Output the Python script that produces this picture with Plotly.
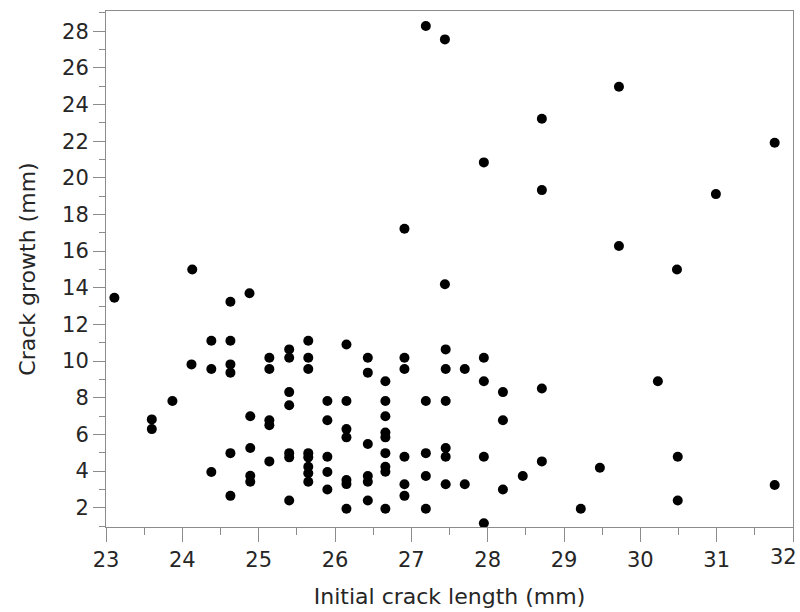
import plotly.graph_objects as go

# Initial crack length (mm) and the crack growth measured for each specimen (mm)
initial_length = [
    27.19, 27.44, 29.72, 28.71, 31.76, 27.95, 28.71, 30.99, 26.91, 29.72,
    24.13, 30.48, 27.44, 24.88, 23.11, 24.63, 24.38, 24.63, 25.65, 26.15,
    25.40, 27.45, 25.40, 25.14, 25.65, 26.43, 26.91, 27.95, 24.12, 24.63,
    24.38, 25.14, 25.65, 26.91, 27.45, 27.70, 24.63, 26.43, 26.66, 27.95,
    30.23, 28.71, 25.40, 28.20, 23.87, 25.90, 26.15, 26.66, 27.19, 27.45,
    25.40, 24.89, 26.66, 23.60, 25.14, 25.90, 28.20, 25.14, 23.60, 26.15,
    26.66, 26.15, 26.66, 26.43, 24.89, 27.45, 24.63, 25.40, 25.65, 26.66,
    27.19, 25.40, 25.65, 25.90, 26.91, 27.45, 27.95, 30.49, 25.14, 28.71,
    25.65, 26.66, 29.47, 24.38, 25.90, 26.66, 25.65, 24.89, 26.43, 27.19,
    28.46, 24.89, 25.65, 26.43, 26.15, 26.15, 26.91, 27.45, 27.70, 31.76,
    25.90, 28.20, 24.63, 26.91, 25.40, 26.43, 30.49, 26.15, 26.66, 27.19,
    29.22, 27.95,
]
crack_growth = [
    28.28, 27.55, 24.97, 23.22, 21.91, 20.84, 19.33, 19.11, 17.22, 16.28,
    15.00, 15.00, 14.19, 13.70, 13.46, 13.24, 11.11, 11.11, 11.11, 10.91,
    10.64, 10.64, 10.18, 10.18, 10.18, 10.18, 10.18, 10.18, 9.82, 9.82,
    9.57, 9.57, 9.57, 9.57, 9.57, 9.57, 9.37, 9.37, 8.90, 8.90,
    8.90, 8.51, 8.31, 8.31, 7.82, 7.82, 7.82, 7.82, 7.82, 7.82,
    7.59, 6.99, 6.99, 6.82, 6.77, 6.77, 6.77, 6.50, 6.29, 6.29,
    6.11, 5.84, 5.84, 5.48, 5.26, 5.26, 4.98, 4.98, 4.98, 4.98,
    4.98, 4.75, 4.75, 4.78, 4.78, 4.78, 4.78, 4.78, 4.53, 4.53,
    4.24, 4.24, 4.18, 3.95, 3.95, 3.96, 3.88, 3.75, 3.73, 3.73,
    3.73, 3.42, 3.42, 3.42, 3.51, 3.29, 3.28, 3.28, 3.28, 3.24,
    3.00, 3.00, 2.65, 2.65, 2.40, 2.40, 2.40, 1.95, 1.95, 1.95,
    1.95, 1.15,
]

x_ticks = list(range(23, 33))
y_ticks = list(range(2, 29, 2))

FONT = "DejaVu Sans"
TICK_SIZE = 21
TITLE_SIZE = 22
TEXT = "#262626"
AXIS = "#8c8c8c"

fig = go.Figure(
    go.Scatter(
        x=initial_length,
        y=crack_growth,
        mode="markers",
        marker=dict(color="black", size=10, line=dict(width=0)),
        hoverinfo="x+y",
    )
)

axis_common = dict(
    showgrid=False,
    zeroline=False,
    showline=True,
    linecolor=AXIS,
    linewidth=1,
    mirror=True,
    ticks="outside",
    tickcolor=AXIS,
    tickfont=dict(family=FONT, size=TICK_SIZE, color=TEXT),
)

# The last x label sits at the plot's right edge; it is drawn as an
# annotation nudged left so it stays inside the page.
x_text = [str(v) if v != x_ticks[-1] else "" for v in x_ticks]

fig.update_xaxes(
    **axis_common,
    range=[23, 32],
    tickvals=x_ticks,
    ticktext=x_text,
    ticklen=14,
    minor=dict(dtick=0.5, ticklen=7, tickcolor=AXIS, ticks="outside"),
    title=dict(text="Initial crack length (mm)",
               font=dict(family=FONT, size=TITLE_SIZE, color=TEXT), standoff=17),
)
fig.update_yaxes(
    **axis_common,
    range=[0.95, 29.1],
    tickvals=y_ticks,
    ticklen=12,
    minor=dict(dtick=1, ticklen=6, tickcolor=AXIS, ticks="outside"),
    title=dict(text="Crack growth (mm)",
               font=dict(family=FONT, size=TITLE_SIZE, color=TEXT), standoff=20),
)

fig.add_annotation(
    x=x_ticks[-1], y=0, xref="x", yref="paper",
    text=str(x_ticks[-1]), showarrow=False,
    xanchor="center", yanchor="top", xshift=-10, yshift=-16,
    font=dict(family=FONT, size=TICK_SIZE, color=TEXT),
)

fig.update_layout(
    width=800,
    height=612,
    margin=dict(l=106, r=7, t=11, b=85),
    paper_bgcolor="white",
    plot_bgcolor="white",
    showlegend=False,
)

fig.write_html("out.html")
